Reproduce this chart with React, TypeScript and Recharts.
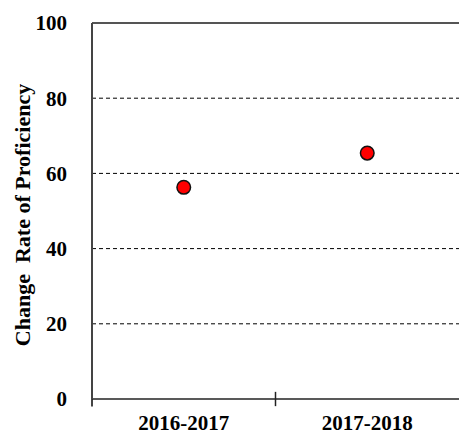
import React from 'react';
import { ScatterChart, Scatter, XAxis, YAxis, ReferenceLine, Label } from 'recharts';

const periods = ['2016-2017', '2017-2018'];
const proficiency = [56.3, 65.4];
const yTicks = [0, 20, 40, 60, 80, 100];
const gridLevels = [20, 40, 60, 80];

const serif = "'Liberation Serif', 'Times New Roman', serif";

// each period sits in the middle of its own unit band on a numeric axis
const data = periods.map((p, i) => ({ x: i + 0.5, y: proficiency[i], period: p }));

const Dot = (props: any) => (
    <circle cx={props.cx} cy={props.cy} r={6.8} fill="#ff0000" stroke="#111" strokeWidth={1.5} />
);

const YTitle = (props: any) => {
    const vb = props.viewBox || { x: 0, y: 0, height: 0 };
    const cx = 22;
    const cy = vb.y + vb.height / 2 + 4;
    return (
        <text
            x={cx}
            y={cy}
            transform={`rotate(-90, ${cx}, ${cy})`}
            textAnchor="middle"
            dominantBaseline="central"
            fontFamily={serif}
            fontWeight="bold"
            fontSize={22}
            fill="#000"
        >
            {'Change\u00a0 Rate of Proficiency'}
        </text>
    );
};

export default function App() {
    return (
        <div style={{ position: 'absolute', left: 0, top: 0, background: '#fff' }}>
            <ScatterChart width={459} height={434} margin={{ top: 23, right: 0, bottom: 0, left: 0 }}>
                <XAxis
                    type="number"
                    dataKey="x"
                    domain={[0, 2]}
                    ticks={[0.5, 1.5]}
                    tickFormatter={(v: number) => periods[Math.floor(v)]}
                    height={35}
                    tickLine={false}
                    tickSize={0}
                    tickMargin={16}
                    axisLine={{ stroke: '#222', strokeWidth: 1.5 }}
                    tick={{ fill: '#000', fontFamily: serif, fontWeight: 'bold', fontSize: 21 }}
                />
                <YAxis
                    type="number"
                    dataKey="y"
                    domain={[0, 100]}
                    ticks={yTicks}
                    width={92}
                    tickLine={false}
                    tickSize={0}
                    tickMargin={25}
                    axisLine={{ stroke: '#444', strokeWidth: 2 }}
                    tick={{ fill: '#000', fontFamily: serif, fontWeight: 'bold', fontSize: 21 }}
                >
                    <Label content={<YTitle />} />
                </YAxis>
                {gridLevels.map((v) => (
                    <ReferenceLine key={v} y={v} stroke="#000" strokeWidth={1} strokeDasharray="4 3" />
                ))}
                <ReferenceLine y={100} stroke="#555" strokeWidth={2} />
                <ReferenceLine
                    segment={[{ x: 1, y: -1.9 }, { x: 1, y: 1.9 }]}
                    stroke="#222"
                    strokeWidth={1.5}
                    ifOverflow="visible"
                />
                <ReferenceLine
                    segment={[{ x: 0, y: 0 }, { x: 0, y: -2 }]}
                    stroke="#444"
                    strokeWidth={2}
                    ifOverflow="visible"
                />
                <Scatter data={data} shape={<Dot />} isAnimationActive={false} />
            </ScatterChart>
        </div>
    );
}
